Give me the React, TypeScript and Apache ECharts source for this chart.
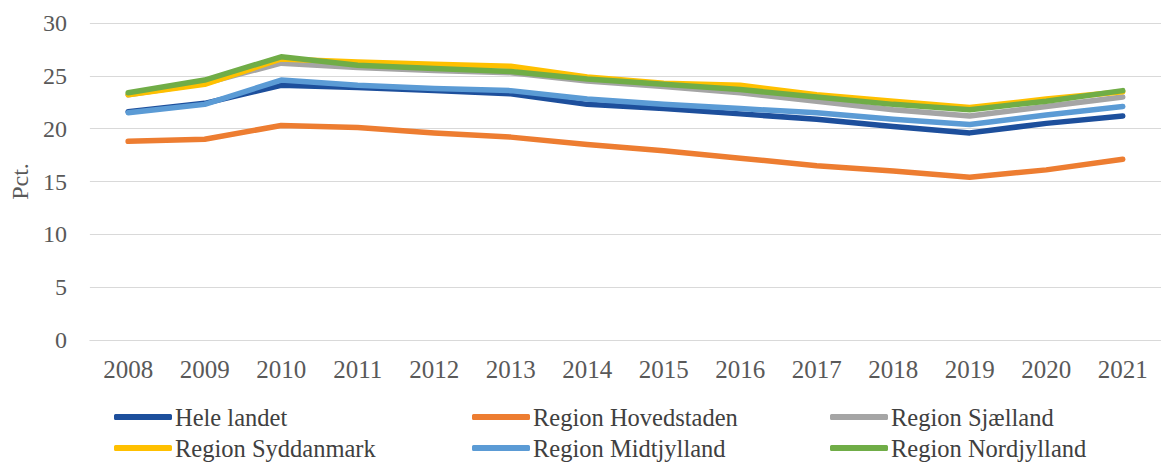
import React, { useEffect, useRef } from "react";
import * as echarts from "echarts";

const years = ["2008","2009","2010","2011","2012","2013","2014","2015","2016","2017","2018","2019","2020","2021"];
const heleLandet = [21.6, 22.4, 24.1, 23.9, 23.6, 23.3, 22.3, 21.9, 21.4, 20.9, 20.2, 19.6, 20.5, 21.2];
const hovedstaden = [18.8, 19.0, 20.3, 20.1, 19.6, 19.2, 18.5, 17.9, 17.2, 16.5, 16.0, 15.4, 16.1, 17.1];
const sjaelland = [23.2, 24.3, 26.2, 25.8, 25.5, 25.3, 24.5, 24.0, 23.4, 22.6, 21.8, 21.2, 22.1, 23.0];
const syddanmark = [23.2, 24.2, 26.6, 26.3, 26.1, 25.9, 24.9, 24.3, 24.1, 23.2, 22.6, 22.0, 22.8, 23.5];
const midtjylland = [21.5, 22.3, 24.6, 24.1, 23.8, 23.6, 22.8, 22.3, 21.9, 21.5, 20.9, 20.4, 21.3, 22.1];
const nordjylland = [23.4, 24.6, 26.8, 26.0, 25.7, 25.4, 24.7, 24.2, 23.7, 23.0, 22.3, 21.8, 22.6, 23.6];
const yTicks = [0, 5, 10, 15, 20, 25, 30];

const seriesDefs = [
  { name: "Hele landet", data: heleLandet, color: "#1D4F9C" },
  { name: "Region Hovedstaden", data: hovedstaden, color: "#ED7D31" },
  { name: "Region Sjælland", data: sjaelland, color: "#A5A5A5" },
  { name: "Region Syddanmark", data: syddanmark, color: "#FFC000" },
  { name: "Region Midtjylland", data: midtjylland, color: "#5B9BD5" },
  { name: "Region Nordjylland", data: nordjylland, color: "#70AD47" },
];

const FONT = "Liberation Serif";

export default function App() {
  const ref = useRef<HTMLDivElement>(null);
  useEffect(() => {
    if (!ref.current) return;
    const chart = echarts.init(ref.current, null, { renderer: "svg" });
    const legendBase = {
      orient: "vertical",
      top: 404,
      padding: 0,
      itemWidth: 58,
      itemHeight: 6,
      itemGap: 5,
      icon: "roundRect",
      textStyle: { fontFamily: FONT, fontSize: 24.5, color: "#404040", padding: [0, 0, 0, -2], lineHeight: 26 },
    };
    chart.setOption({
      animation: false,
      backgroundColor: "#ffffff",
      grid: { left: 81, top: 23, width: 1088, height: 317, containLabel: false },
      legend: [
        { ...legendBase, left: 114, data: ["Hele landet", "Region Syddanmark"] },
        { ...legendBase, left: 472, data: ["Region Hovedstaden", "Region Midtjylland"] },
        { ...legendBase, left: 830, data: ["Region Sjælland", "Region Nordjylland"] },
      ],
      xAxis: {
        type: "category",
        data: years,
        boundaryGap: true,
        axisLine: { show: true, lineStyle: { color: "#d9d9d9", width: 1 } },
        axisTick: { show: false },
        axisLabel: { fontFamily: FONT, fontSize: 25, color: "#595959", margin: 17 },
      },
      yAxis: {
        type: "value",
        min: yTicks[0],
        max: yTicks[yTicks.length - 1],
        interval: 5,
        name: "Pct.",
        nameLocation: "middle",
        nameGap: 50,
        nameRotate: 90,
        nameTextStyle: { fontFamily: FONT, fontSize: 24, color: "#595959" },
        axisLine: { show: false },
        axisTick: { show: false },
        axisLabel: { fontFamily: FONT, fontSize: 24, color: "#595959", margin: 23 },
        splitLine: { lineStyle: { color: "#d9d9d9", width: 1 } },
      },
      series: seriesDefs.map((s) => ({
        name: s.name,
        type: "line",
        data: s.data,
        symbol: "none",
        color: s.color,
        lineStyle: { width: 5.5, color: s.color, cap: "round", join: "round" },
        itemStyle: { color: s.color },
      })),
    });
    return () => chart.dispose();
  }, []);
  return (
    <div
      ref={ref}
      style={{ position: "fixed", left: 0, top: 0, width: 1161, height: 463, background: "#fff" }}
    />
  );
}
